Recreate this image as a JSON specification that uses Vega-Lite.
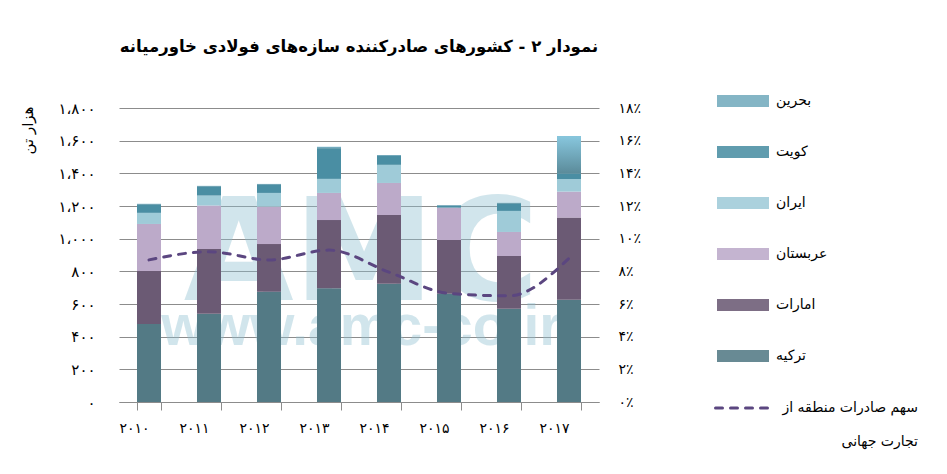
{
  "$schema": "https://vega.github.io/schema/vega-lite/v6.json",
  "width": 480,
  "height": 294,
  "autosize": {"type": "none"},
  "padding": {"left": 119, "top": 108, "right": 348, "bottom": 72},
  "background": "white",
  "config": {
    "font": "DejaVu Sans",
    "view": {"stroke": null},
    "axis": {"labelFont": "DejaVu Sans", "titleFont": "DejaVu Sans", "labelColor": "black", "titleColor": "black"},
    "legend": {"labelFont": "DejaVu Sans", "labelColor": "black"}
  },
  "title": {
    "text": "نمودار ۲ - کشورهای صادرکننده سازه‌های فولادی خاورمیانه",
    "fontSize": 16.5,
    "fontWeight": "bold",
    "font": "DejaVu Sans",
    "color": "black",
    "anchor": "middle",
    "frame": "group",
    "offset": 33
  },
  "datasets": {
    "exports": [
      {"year": "2010", "country": "ترکیه", "value": 477},
      {"year": "2010", "country": "امارات", "value": 325},
      {"year": "2010", "country": "عربستان", "value": 288},
      {"year": "2010", "country": "ایران", "value": 68},
      {"year": "2010", "country": "کویت", "value": 50},
      {"year": "2010", "country": "بحرین", "value": 5},
      {"year": "2011", "country": "ترکیه", "value": 540},
      {"year": "2011", "country": "امارات", "value": 397},
      {"year": "2011", "country": "عربستان", "value": 266},
      {"year": "2011", "country": "ایران", "value": 61},
      {"year": "2011", "country": "کویت", "value": 54},
      {"year": "2011", "country": "بحرین", "value": 5},
      {"year": "2012", "country": "ترکیه", "value": 675},
      {"year": "2012", "country": "امارات", "value": 292},
      {"year": "2012", "country": "عربستان", "value": 229},
      {"year": "2012", "country": "ایران", "value": 84},
      {"year": "2012", "country": "کویت", "value": 50},
      {"year": "2012", "country": "بحرین", "value": 5},
      {"year": "2013", "country": "ترکیه", "value": 697},
      {"year": "2013", "country": "امارات", "value": 417},
      {"year": "2013", "country": "عربستان", "value": 166},
      {"year": "2013", "country": "ایران", "value": 86},
      {"year": "2013", "country": "کویت", "value": 188},
      {"year": "2013", "country": "بحرین", "value": 8},
      {"year": "2014", "country": "ترکیه", "value": 724},
      {"year": "2014", "country": "امارات", "value": 421},
      {"year": "2014", "country": "عربستان", "value": 196},
      {"year": "2014", "country": "ایران", "value": 111},
      {"year": "2014", "country": "کویت", "value": 55},
      {"year": "2014", "country": "بحرین", "value": 5},
      {"year": "2015", "country": "ترکیه", "value": 663},
      {"year": "2015", "country": "امارات", "value": 329},
      {"year": "2015", "country": "عربستان", "value": 198},
      {"year": "2015", "country": "ایران", "value": 0},
      {"year": "2015", "country": "کویت", "value": 12},
      {"year": "2015", "country": "بحرین", "value": 3},
      {"year": "2016", "country": "ترکیه", "value": 571},
      {"year": "2016", "country": "امارات", "value": 323},
      {"year": "2016", "country": "عربستان", "value": 147},
      {"year": "2016", "country": "ایران", "value": 129},
      {"year": "2016", "country": "کویت", "value": 45},
      {"year": "2016", "country": "بحرین", "value": 4},
      {"year": "2017", "country": "ترکیه", "value": 626},
      {"year": "2017", "country": "امارات", "value": 503},
      {"year": "2017", "country": "عربستان", "value": 159},
      {"year": "2017", "country": "ایران", "value": 77},
      {"year": "2017", "country": "کویت", "value": 35},
      {"year": "2017", "country": "بحرین", "value": 228}
    ],
    "share": [
      {"year": "2010", "series": "share", "share": 8.7},
      {"year": "2011", "series": "share", "share": 9.2},
      {"year": "2012", "series": "share", "share": 8.7},
      {"year": "2013", "series": "share", "share": 9.3},
      {"year": "2014", "series": "share", "share": 7.95},
      {"year": "2015", "series": "share", "share": 6.65},
      {"year": "2016", "series": "share", "share": 6.5},
      {"year": "2017", "series": "share", "share": 8.8}
    ]
  },
  "layer": [
    {
      "layer": [
        {
          "data": {"values": [{}]},
          "mark": {"type": "text", "text": "AMC", "font": "DejaVu Sans", "fontWeight": "bold", "fontSize": 142, "align": "center", "baseline": "alphabetic", "color": "#8fc0d0", "opacity": 0.4},
          "encoding": {
            "x": {"datum": "2013", "type": "ordinal", "bandPosition": 1.85},
            "y": {"datum": 625, "type": "quantitative"}
          }
        },
        {
          "data": {"values": [{}]},
          "mark": {"type": "text", "text": "www.amc-co.ir", "font": "Liberation Sans", "fontWeight": "bold", "fontSize": 57, "align": "center", "baseline": "alphabetic", "color": "#8fc0d0", "opacity": 0.4},
          "encoding": {
            "x": {"datum": "2013", "type": "ordinal", "bandPosition": 1.85},
            "y": {"datum": 349, "type": "quantitative"}
          }
        },
        {
          "data": {"name": "exports"},
          "transform": [
            {"calculate": "indexof(['ترکیه','امارات','عربستان','ایران','کویت','بحرین'], datum.country)", "as": "k"},
            {"stack": "value", "groupby": ["year"], "sort": [{"field": "k", "order": "ascending"}], "as": ["v0", "v1"]}
          ],
          "mark": {"type": "bar"},
          "encoding": {
            "x": {
              "field": "year",
              "type": "ordinal",
              "title": null,
              "scale": {"domain": ["2010", "2011", "2012", "2013", "2014", "2015", "2016", "2017"], "paddingInner": 0.6, "paddingOuter": 0.3},
              "axis": {
                "labelAngle": 0,
                "tickBand": "extent",
                "tickSize": 8,
                "tickColor": "#8c8c8c",
                "domainColor": "#8c8c8c",
                "labelFontSize": 14,
                "labelPadding": 18,
                "labelExpr": "replace(replace(replace(replace(replace(replace(replace(replace(replace(replace(datum.label,regexp('0','g'),'۰'),regexp('1','g'),'۱'),regexp('2','g'),'۲'),regexp('3','g'),'۳'),regexp('4','g'),'۴'),regexp('5','g'),'۵'),regexp('6','g'),'۶'),regexp('7','g'),'۷'),regexp('8','g'),'۸'),regexp('9','g'),'۹')"
              }
            },
            "y": {
              "field": "v1",
              "type": "quantitative",
              "title": "هزار تن",
              "scale": {"domain": [0, 1800], "nice": false},
              "axis": {
                "orient": "left",
                "values": [0, 200, 400, 600, 800, 1000, 1200, 1400, 1600, 1800],
                "tickCount": 20,
                "labelOverlap": false,
                "grid": true,
                "gridColor": "#8c8c8c",
                "domain": false,
                "ticks": false,
                "labelFontSize": 15,
                "labelPadding": 24,
                "labelExpr": "replace(replace(replace(replace(replace(replace(replace(replace(replace(replace(replace(format(datum.value, ','), ',', '،'),regexp('0','g'),'۰'),regexp('1','g'),'۱'),regexp('2','g'),'۲'),regexp('3','g'),'۳'),regexp('4','g'),'۴'),regexp('5','g'),'۵'),regexp('6','g'),'۶'),regexp('7','g'),'۷'),regexp('8','g'),'۸'),regexp('9','g'),'۹')",
                "titleAngle": -90,
                "titleFontSize": 15,
                "titleFontWeight": "normal",
                "titleAlign": "right",
                "titleBaseline": "middle",
                "titleX": -92,
                "titleY": -2
              }
            },
            "y2": {"field": "v0"},
            "color": {
              "field": "country",
              "type": "nominal",
              "scale": {
                "domain": ["بحرین", "کویت", "ایران", "عربستان", "امارات", "ترکیه"],
                "range": ["#73abbd", "#4a8ea3", "#9fcbd8", "#bcaac9", "#6b5a74", "#537a85"]
              },
              "legend": {
                "orient": "none",
                "legendX": 598,
                "legendY": -20,
                "title": null,
                "padding": 0,
                "symbolType": "M-2,-0.46L2,-0.46L2,0.46L-2,0.46Z",
                "symbolSize": 676,
                "symbolStrokeWidth": 0,
                "symbolOffset": 13,
                "symbolOpacity": 0.88,
                "labelOffset": 20,
                "rowPadding": 31,
                "labelFontSize": 14,
                "labelLimit": 200
              }
            }
          }
        },
        {
          "data": {"name": "exports"},
          "transform": [
            {"calculate": "indexof(['ترکیه','امارات','عربستان','ایران','کویت','بحرین'], datum.country)", "as": "k"},
            {"stack": "value", "groupby": ["year"], "sort": [{"field": "k", "order": "ascending"}], "as": ["v0", "v1"]},
            {"filter": "datum.country == 'بحرین'"}
          ],
          "mark": {
            "type": "bar",
            "color": {
              "gradient": "linear",
              "x1": 0, "y1": 0, "x2": 0, "y2": 1,
              "stops": [{"offset": 0, "color": "#88c7de"}, {"offset": 1, "color": "#5b8b9a"}]
            }
          },
          "encoding": {
            "x": {"field": "year", "type": "ordinal", "title": null},
            "y": {"field": "v1", "type": "quantitative"},
            "y2": {"field": "v0"}
          }
        }
      ]
    },
    {
      "data": {"name": "share"},
      "mark": {"type": "line", "interpolate": "monotone", "color": "#5b4680", "strokeWidth": 3, "strokeCap": "round"},
      "encoding": {
        "x": {"field": "year", "type": "ordinal", "title": null},
        "y": {
          "field": "share",
          "type": "quantitative",
          "title": null,
          "scale": {"domain": [0, 18], "nice": false},
          "axis": {
            "orient": "right",
            "values": [0, 2, 4, 6, 8, 10, 12, 14, 16, 18],
            "tickCount": 20,
            "grid": false,
            "domain": false,
            "ticks": false,
            "labelOverlap": false,
            "labelFontSize": 14,
            "labelPadding": 19,
            "labelExpr": "replace(replace(replace(replace(replace(replace(replace(replace(replace(replace(format(datum.value, 'd'),regexp('0','g'),'۰'),regexp('1','g'),'۱'),regexp('2','g'),'۲'),regexp('3','g'),'۳'),regexp('4','g'),'۴'),regexp('5','g'),'۵'),regexp('6','g'),'۶'),regexp('7','g'),'۷'),regexp('8','g'),'۸'),regexp('9','g'),'۹') + '٪'"
          }
        },
        "strokeDash": {
          "field": "series",
          "type": "nominal",
          "scale": {"domain": ["share"], "range": [[7, 8]]},
          "legend": {
            "orient": "none",
            "legendX": 595,
            "legendY": 271,
            "title": null,
            "padding": 0,
            "symbolType": "stroke",
            "symbolSize": 3025,
            "symbolStrokeWidth": 3,
            "symbolStrokeColor": "#5b4680",
            "labelAlign": "right",
            "labelBaseline": "middle",
            "labelOffset": 146,
            "labelFontSize": 14,
            "labelLimit": 300,
            "labelExpr": "['سهم صادرات منطقه از', 'تجارت جهانی']",
            "encode": {
              "labels": {"update": {"lineHeight": {"value": 34}, "dy": {"value": 0}}},
              "symbols": {"update": {"strokeCap": {"value": "round"}}}
            }
          }
        }
      }
    }
  ],
  "resolve": {"scale": {"y": "independent"}}
}
